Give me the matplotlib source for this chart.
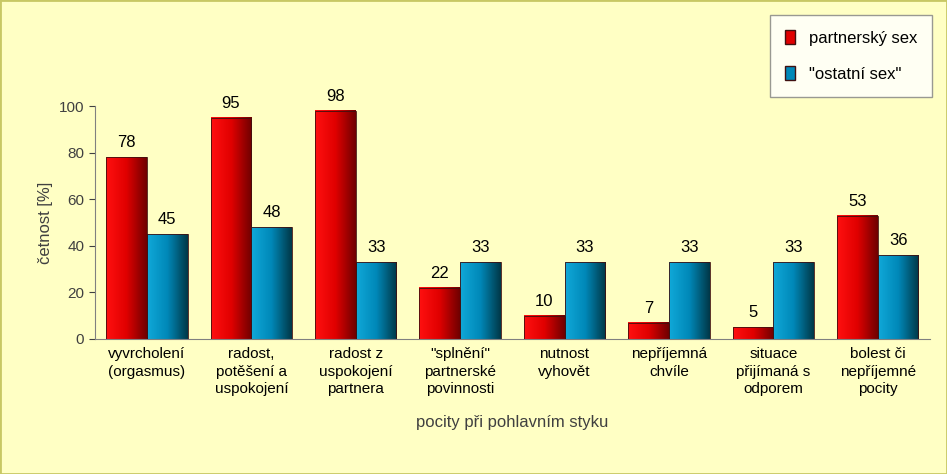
import numpy as np
import matplotlib
matplotlib.use("Agg")
import matplotlib.pyplot as plt
from matplotlib.colors import LinearSegmentedColormap
from matplotlib.patches import Rectangle

categories = ["vyvrcholení\n(orgasmus)", "radost,\npotěšení a\nuspokojení", "radost z\nuspokojení\npartnera",
              "\"splnění\"\npartnerské\npovinnosti", "nutnost\nvyhovět", "nepříjemná\nchvíle",
              "situace\npřijímaná s\nodporem", "bolest či\nnepříjemné\npocity"]
partner = [78, 95, 98, 22, 10, 7, 5, 53]
other = [45, 48, 33, 33, 33, 33, 33, 36]
series_names = ["partnerský sex", "\"ostatní sex\""]

plt.rcParams["font.family"] = "Liberation Sans"
bg = "#FFFFC4"
fig = plt.figure(figsize=(9.47, 4.74), dpi=100, facecolor=bg)
fig.patches.append(Rectangle((0, 0), 1, 1, transform=fig.transFigure, fill=False,
                             edgecolor="#C8C864", linewidth=2))
ax = fig.add_axes([0.1, 0.285, 0.882, 0.491], facecolor=bg)

red_cmap = LinearSegmentedColormap.from_list("r", ["#FF1010", "#E00000", "#700000"])
blue_cmap = LinearSegmentedColormap.from_list("b", ["#10A8D8", "#0088B8", "#003848"])
grad = np.linspace(0, 1, 64).reshape(1, -1)
w = 0.39
x = np.arange(len(categories))


def gradient_bar(xl, h, cmap):
    ax.imshow(grad, cmap=cmap, extent=(xl, xl + w, 0, h), aspect="auto", zorder=2)
    ax.add_patch(Rectangle((xl, 0), w, h, fill=False, edgecolor="#401010", linewidth=0.6, zorder=3))


for i in x:
    gradient_bar(i - w, partner[i], red_cmap)
    gradient_bar(i, other[i], blue_cmap)
    ax.text(i - w / 2, partner[i] + 3, str(partner[i]), ha="center", va="bottom", fontsize=12)
    ax.text(i + w / 2, other[i] + 3, str(other[i]), ha="center", va="bottom", fontsize=12)

ax.set_xlim(-0.5, len(categories) - 0.5)
ax.set_ylim(0, 100)
ax.set_yticks(range(0, 101, 20))
ax.set_xticks(x)
ax.set_xticklabels(categories, fontsize=11, va="top", linespacing=1.3)
ax.tick_params(axis="y", labelsize=11, length=4, colors="#404040")
ax.tick_params(axis="x", length=0, pad=6)
for s in ["top", "right"]:
    ax.spines[s].set_visible(False)
ax.spines["left"].set_color("#808080")
ax.spines["bottom"].set_color("#808080")
ax.set_ylabel("četnost [%]", fontsize=12, color="#404040")
ax.set_xlabel("pocity při pohlavním styku", fontsize=12, color="#404040", labelpad=14)

handles = [Rectangle((0, 0), 1, 1, facecolor="#E00000", edgecolor="#401010"),
           Rectangle((0, 0), 1, 1, facecolor="#0088B8", edgecolor="#401010")]
leg = fig.legend(handles, series_names, loc="upper right", bbox_to_anchor=(0.993, 0.985),
                 fontsize=12, frameon=True, fancybox=False, handlelength=0.6, handleheight=0.9,
                 labelspacing=1.2, borderpad=0.9)
leg.get_frame().set_facecolor("white")
leg.get_frame().set_edgecolor("#808080")

fig.savefig("out.png", dpi=100, facecolor=bg)
